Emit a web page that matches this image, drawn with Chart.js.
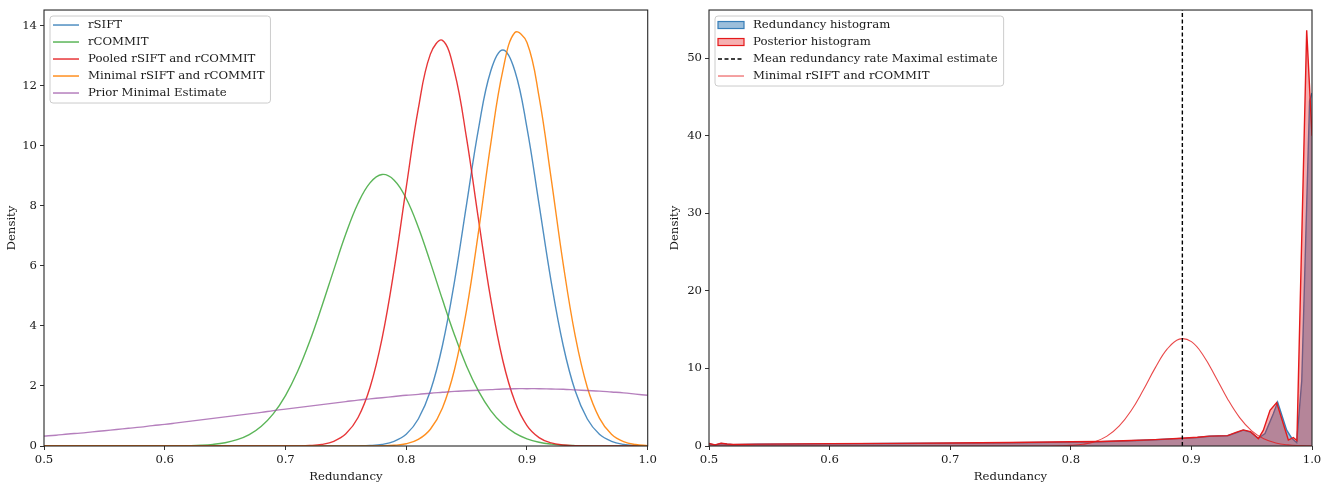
<!DOCTYPE html>
<html><head><meta charset="utf-8">
<script src="https://cdn.jsdelivr.net/npm/chart.js@4.4.1/dist/chart.umd.min.js"></script>
<style>
html,body{margin:0;padding:0;background:#fff;}
#wrap{position:relative;width:1325px;height:489px;overflow:hidden;}
.box{position:absolute;top:0;height:489px;}
</style></head><body>
<div id="wrap">
<div class="box" style="left:0;width:660px"><canvas id="c1"></canvas></div>
<div class="box" style="left:660px;width:665px"><canvas id="c2"></canvas></div>
</div>
<script>
// ---------- data ----------
const redundancyGrid = [0.50,0.51,0.52,0.53,0.54,0.55,0.56,0.57,0.58,0.59,0.60,0.61,0.62,0.63,0.64,0.65,0.66,0.67,0.68,0.69,0.70,0.71,0.72,0.73,0.74,0.75,0.76,0.77,0.78,0.79,0.80,0.81,0.82,0.83,0.84,0.85,0.86,0.87,0.88,0.89,0.90,0.91,0.92,0.93,0.94,0.95,0.96,0.97,0.98,0.99,1.00];

const rSIFT = [0,0,0,0,0,0,0,0,0,0, 0,0,0,0,0,0,0,0,0,0, 0,0,0,0,0,
  0.001,0.005,0.017,0.055,0.156,0.39,0.90,1.83,3.35,5.49,8.06,10.60,12.50,13.20,12.50,10.60,8.06,5.49,3.35,1.83,0.90,0.39,0.156,0.055,0.017,0.005];

const rCOMMIT = [0,0,0,0,0,0,0,0,0,0,
  0.002,0.005,0.012,0.026,0.055,0.11,0.21,0.38,0.66,1.08,
  1.68,2.48,3.48,4.64,5.87,7.07,8.08,8.77,9.05,8.86,
  8.25,7.29,6.12,4.88,3.70,2.66,1.82,1.18,0.73,0.43,
  0.24,0.126,0.063,0.030,0.014,0.006,0.002,0.001,0,0,0];

const pooled = [0,0,0,0,0,0,0,0,0,0, 0,0,0,0,0,0,0,0,0,0,
  0.001,0.004,0.016,0.053,0.155,0.405,0.94,1.95,3.59,5.89,
  8.62,11.24,13.06,13.52,12.47,10.25,7.51,4.90,2.85,1.48,
  0.68,0.28,0.103,0.033,0.010,0.003,0.001,0,0,0,0];

const minimal = [0,0,0,0,0,0,0,0,0,0, 0,0,0,0,0,0,0,0,0,0, 0,0,0,0,0,0,0,
  0.002,0.006,0.023,0.075,0.218,0.558,1.27,2.55,4.54,7.18,10.07,12.51,13.78,
  13.45,11.64,8.93,6.07,3.66,1.95,0.93,0.39,0.145,0.048,0.014];

const priorMinimal = [0.33,0.36,0.40,0.43,0.47,0.51,0.55,0.59,0.63,0.68,
  0.72,0.77,0.82,0.87,0.92,0.97,1.02,1.07,1.12,1.18,
  1.23,1.28,1.33,1.38,1.43,1.48,1.53,1.57,1.61,1.65,
  1.69,1.72,1.76,1.79,1.82,1.84,1.86,1.88,1.90,1.91,
  1.91,1.91,1.90,1.89,1.87,1.85,1.83,1.80,1.77,1.73,1.69];

const redundancyHistX = [0.500,0.505,0.510,0.515,0.520,0.540,0.600,0.650,0.700,0.750,0.800,0.825,0.850,0.870,0.892,0.905,0.915,0.930,0.937,0.943,0.949,0.9555,0.961,0.968,0.9715,0.979,0.9832,0.9873,0.9915,0.998,1.000];
const redundancyHistY = [0.30,0.12,0.32,0.22,0.18,0.22,0.28,0.32,0.37,0.42,0.50,0.55,0.68,0.80,0.98,1.10,1.25,1.32,1.70,2.04,1.80,1.00,1.60,4.20,5.66,2.04,1.00,0.43,8.40,44.5,45.5];

const posteriorHistX = [0.500,0.505,0.510,0.515,0.520,0.540,0.600,0.650,0.700,0.750,0.800,0.825,0.850,0.870,0.892,0.905,0.915,0.930,0.937,0.943,0.949,0.9555,0.9596,0.9652,0.9707,0.9804,0.9845,0.9875,0.9956,1.000];
const posteriorHistY = [0.32,0.15,0.35,0.25,0.20,0.24,0.30,0.34,0.39,0.45,0.54,0.58,0.70,0.82,1.00,1.12,1.27,1.34,1.75,2.08,1.85,0.95,2.00,4.60,5.60,0.77,1.10,0.70,53.6,40.0];

const meanRedundancyRate = 0.8925;

const xTicks = [0.5,0.6,0.7,0.8,0.9,1.0];
const leftYTicks = [0,2,4,6,8,10,12,14];
const rightYTicks = [0,10,20,30,40,50];
const leftYMax = 14.53;
const rightYMax = 56.2;

const leftLabels = ['rSIFT','rCOMMIT','Pooled rSIFT and rCOMMIT','Minimal rSIFT and rCOMMIT','Prior Minimal Estimate'];
const rightLabels = ['Redundancy histogram','Posterior histogram','Mean redundancy rate Maximal estimate','Minimal rSIFT and rCOMMIT'];

// ---------- styling ----------
const FONT = "'DejaVu Serif', serif";
const FS = 11.7;
Chart.defaults.font.family = FONT;
Chart.defaults.font.size = FS;
Chart.defaults.color = '#1a1a1a';

const C = {
  blue:'rgba(55,126,184,0.88)', green:'rgba(77,175,74,0.92)', red:'rgba(228,26,28,0.88)',
  orange:'rgba(255,127,0,0.88)', purple:'rgba(152,78,163,0.72)'
};

const xy = (xs, ys) => xs.map((x,i)=>({x:x, y:ys[i]}));

function makeScales(yTicks, yMax, yWidth, yTitlePad){
  return {
    x: {type:'linear', min:0.5, max:1.0,
      afterBuildTicks: s => { s.ticks = xTicks.map(v=>({value:v})); },
      afterFit: s => { s.height = 43; },
      ticks:{callback:v=>Number(v).toFixed(1), maxRotation:0, autoSkip:false, padding:3, color:'#1a1a1a'},
      grid:{drawOnChartArea:false, drawTicks:true, tickLength:4, color:'#333', tickColor:'#333'},
      border:{display:false},
      title:{display:true, text:'Redundancy', padding:{top:0,bottom:5}, color:'#1a1a1a'}
    },
    y: {type:'linear', min:0, max:yMax,
      afterBuildTicks: s => { s.ticks = yTicks.map(v=>({value:v})); },
      afterFit: s => { s.width = yWidth; },
      ticks:{padding:3, color:'#1a1a1a'},
      grid:{drawOnChartArea:false, drawTicks:true, tickLength:4, color:'#333', tickColor:'#333'},
      border:{display:false},
      title:{display:true, text:'Density', padding:{top:yTitlePad,bottom:0}, color:'#1a1a1a'}
    }
  };
}

function frameLegend(items){
  return {
    id:'frameLegend',
    afterDraw(chart){
      const {ctx, chartArea:a} = chart;
      ctx.save();
      ctx.strokeStyle = '#262626'; ctx.lineWidth = 1.1; ctx.setLineDash([]);
      ctx.strokeRect(a.left, a.top, a.right-a.left, a.bottom-a.top);
      ctx.font = FS + "px " + FONT;
      const bx = a.left + 6, by = a.top + 6;
      const textX = bx + 38;
      let maxW = 0;
      items.forEach(it => { maxW = Math.max(maxW, ctx.measureText(it.text).width); });
      const rowH = 17, first = 9;
      const bw = textX - bx + maxW + 6;
      const bh = first + (items.length-1)*rowH + 10;
      ctx.beginPath();
      if (ctx.roundRect) ctx.roundRect(bx, by, bw, bh, 3); else ctx.rect(bx, by, bw, bh);
      ctx.fillStyle = 'rgba(255,255,255,0.85)'; ctx.fill();
      ctx.strokeStyle = '#cccccc'; ctx.lineWidth = 1; ctx.stroke();
      items.forEach((it, i) => {
        const y = by + first + i*rowH;
        const hx0 = bx + 3, hx1 = bx + 29;
        if (it.type === 'patch'){
          ctx.fillStyle = it.fill; ctx.fillRect(hx0, y-3.5, hx1-hx0, 7);
          ctx.strokeStyle = it.stroke; ctx.lineWidth = 1.2; ctx.setLineDash([]);
          ctx.strokeRect(hx0, y-3.5, hx1-hx0, 7);
        } else {
          ctx.strokeStyle = it.stroke; ctx.lineWidth = it.width || 1.5;
          ctx.setLineDash(it.dash || []);
          ctx.beginPath(); ctx.moveTo(hx0, y); ctx.lineTo(hx1, y); ctx.stroke();
          ctx.setLineDash([]);
        }
        ctx.fillStyle = '#1a1a1a'; ctx.textBaseline = 'middle'; ctx.textAlign = 'left';
        ctx.fillText(it.text, textX, y);
      });
      ctx.restore();
    }
  };
}

const lineDs = (label, ys, color, order) => ({
  label, data: xy(redundancyGrid, ys), borderColor: color, borderWidth: 1.4,
  pointRadius: 0, fill: false, tension: 0.4, order
});

new Chart(document.getElementById('c1'), {
  type:'line',
  data:{datasets:[
    lineDs(leftLabels[0], rSIFT, C.blue, 5),
    lineDs(leftLabels[1], rCOMMIT, C.green, 4),
    lineDs(leftLabels[2], pooled, C.red, 3),
    lineDs(leftLabels[3], minimal, C.orange, 2),
    lineDs(leftLabels[4], priorMinimal, C.purple, 1)
  ]},
  options:{
    responsive:true, maintainAspectRatio:false, animation:false,
    layout:{padding:{top:6, right:12, bottom:0, left:0}},
    plugins:{legend:{display:false}, tooltip:{enabled:false}},
    scales: makeScales(leftYTicks, leftYMax, 44, 4.5)
  },
  plugins:[frameLegend([
    {type:'line', text:leftLabels[0], stroke:C.blue},
    {type:'line', text:leftLabels[1], stroke:C.green},
    {type:'line', text:leftLabels[2], stroke:C.red},
    {type:'line', text:leftLabels[3], stroke:C.orange},
    {type:'line', text:leftLabels[4], stroke:C.purple}
  ])]
});

new Chart(document.getElementById('c2'), {
  type:'line',
  data:{datasets:[
    {label:rightLabels[0], data: xy(redundancyHistX, redundancyHistY), borderColor:'#377eb8', borderWidth:1.4,
     backgroundColor:'rgba(55,126,184,0.5)', fill:'origin', pointRadius:0, tension:0, order:4},
    {label:rightLabels[1], data: xy(posteriorHistX, posteriorHistY), borderColor:'#e41a1c', borderWidth:1.4,
     backgroundColor:'rgba(228,26,28,0.35)', fill:'origin', pointRadius:0, tension:0, order:3},
    {label:rightLabels[3], data: xy(redundancyGrid, minimal), borderColor:'rgba(228,26,28,0.8)', borderWidth:1.1,
     fill:false, pointRadius:0, tension:0.4, order:2},
    {label:rightLabels[2], data:[{x:meanRedundancyRate,y:0},{x:meanRedundancyRate,y:rightYMax}],
     borderColor:'#000', borderWidth:1.4, borderDash:[4,2.5], fill:false, pointRadius:0, order:1}
  ]},
  options:{
    responsive:true, maintainAspectRatio:false, animation:false,
    layout:{padding:{top:6, right:13, bottom:0, left:0}},
    plugins:{legend:{display:false}, tooltip:{enabled:false}},
    scales: makeScales(rightYTicks, rightYMax, 49, 8)
  },
  plugins:[frameLegend([
    {type:'patch', text:rightLabels[0], fill:'rgba(55,126,184,0.5)', stroke:'#377eb8'},
    {type:'patch', text:rightLabels[1], fill:'rgba(228,26,28,0.35)', stroke:'#e41a1c'},
    {type:'line', text:rightLabels[2], stroke:'#000', dash:[4,2.5], width:1.4},
    {type:'line', text:rightLabels[3], stroke:'rgba(228,26,28,0.55)', width:1.5}
  ])]
});
</script>
</body></html>
